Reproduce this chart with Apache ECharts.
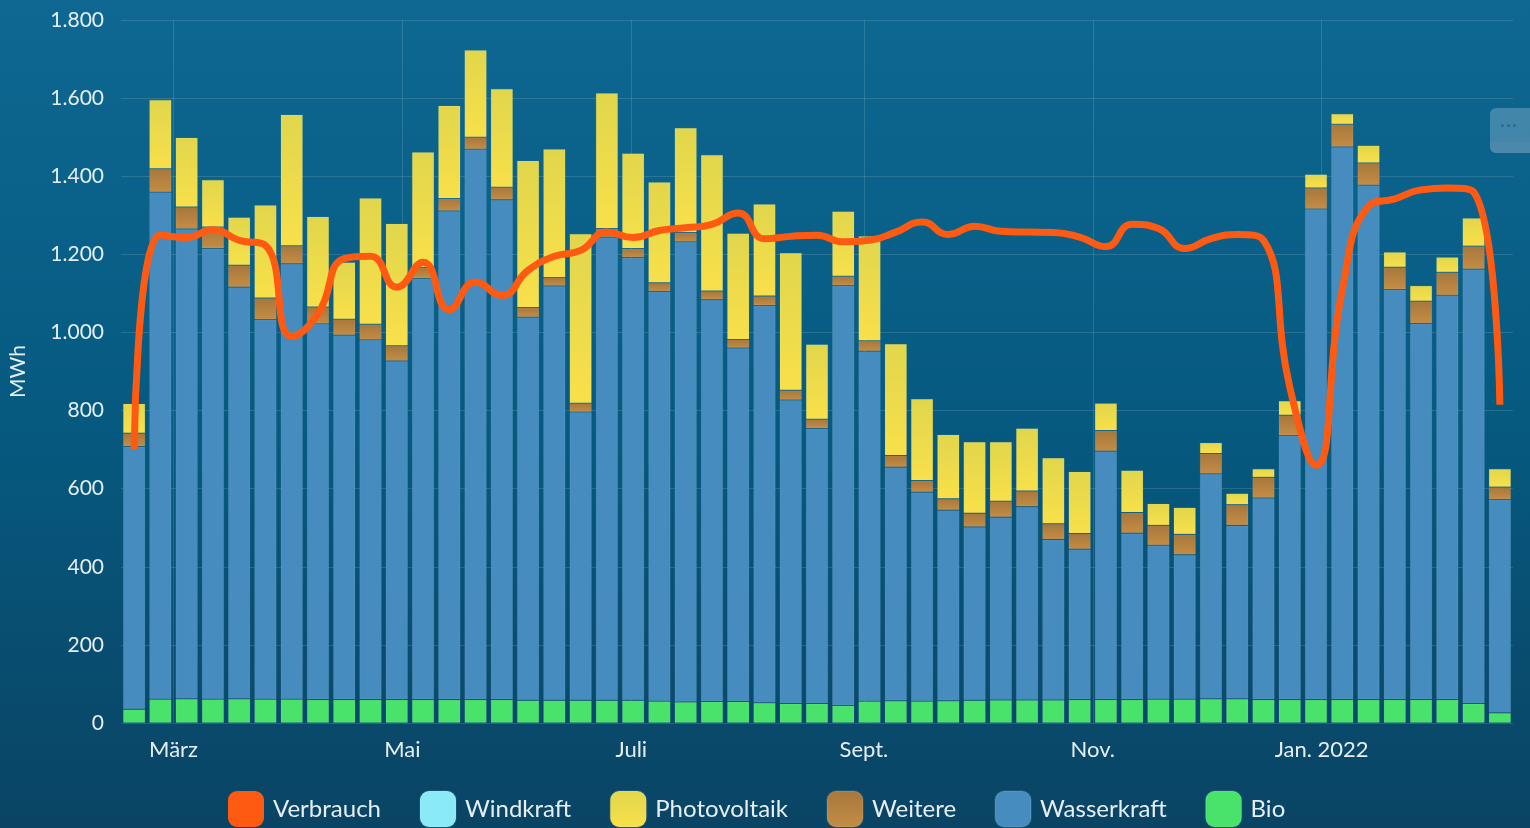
<!DOCTYPE html>
<html>
<head>
<meta charset="utf-8">
<script src="https://cdn.jsdelivr.net/npm/echarts@6/dist/echarts.min.js"></script>
<style>
html,body{margin:0;padding:0;width:1530px;height:828px;overflow:hidden;}
#c{width:1530px;height:828px;}
</style>
</head>
<body>
<div id="c"></div>
<script>
// Week start dates (Mondays) – one bar per week
const weeks = ['2021-02-15','2021-02-22','2021-03-01','2021-03-08','2021-03-15','2021-03-22','2021-03-29','2021-04-05','2021-04-12','2021-04-19','2021-04-26','2021-05-03','2021-05-10','2021-05-17','2021-05-24','2021-05-31','2021-06-07','2021-06-14','2021-06-21','2021-06-28','2021-07-05','2021-07-12','2021-07-19','2021-07-26','2021-08-02','2021-08-09','2021-08-16','2021-08-23','2021-08-30','2021-09-06','2021-09-13','2021-09-20','2021-09-27','2021-10-04','2021-10-11','2021-10-18','2021-10-25','2021-11-01','2021-11-08','2021-11-15','2021-11-22','2021-11-29','2021-12-06','2021-12-13','2021-12-20','2021-12-27','2022-01-03','2022-01-10','2022-01-17','2022-01-24','2022-01-31','2022-02-07','2022-02-14'];

const bio = [35,61,62,61,62,61,61,60,60,60, 60,60,60,60,60,58,58,58,58,58, 56,54,55,55,52,50,50,45,56,57, 56,57,58,59,59,59,60,60,60,61, 61,62,62,60,60,60,60,60,60,60, 60,50,26];
const wasserkraft = [673,1298,1203,1154,1054,972,1115,962,933,921, 867,1078,1251,1409,1280,981,1061,738,1186,1134, 1049,1178,1029,905,1017,777,704,1075,896,598, 535,488,444,468,495,411,385,636,426,394, 370,576,444,516,676,1256,1415,1317,1050,963, 1035,1112,546];
const weitere = [34,60,56,55,56,55,46,43,41,40, 39,29,32,31,32,25,22,23,22,23, 22,24,22,22,24,25,24,24,27,30, 30,29,35,41,40,40,40,53,53,51, 52,52,53,53,52,54,58,57,57,57, 59,59,32];
const photovoltaik = [76,177,178,121,123,238,336,232,146,323, 313,295,238,223,252,376,329,434,347,244, 258,268,349,272,236,352,192,166,268,286, 209,165,183,152,161,169,159,70,108,56, 69,28,29,22,37,35,27,45,39,40, 39,72,47];
const windkraft = []; // no visible values
const verbrauch = [700,1250,1243,1263,1236,1223,990,1048,1189,1195, 1116,1180,1058,1129,1095,1159,1195,1210,1257,1243, 1261,1268,1277,1306,1240,1246,1249,1232,1236,1257, 1283,1251,1272,1259,1257,1256,1244,1220,1277,1266, 1215,1240,1251,1236,860,660,1110,1323,1342,1365, 1370,1360,815];

const monthTickDates = ['2021-03-01','2021-05-01','2021-07-01','2021-09-01','2021-11-01','2022-01-01'];
const monthTickLabels = ['März','Mai','Juli','Sept.','Nov.','Jan. 2022'];
const axisStart = '2021-02-15';
const axisEnd = '2022-02-21';

const DAY = 86400000;
function ts(s){const p=s.split('-').map(Number);return Date.UTC(p[0],p[1]-1,p[2]);}
const tickVals = monthTickDates.map(ts);
const labelFor = v => { for (let i=0;i<tickVals.length;i++){ if (Math.abs(tickVals[i]-v) < DAY/2) return monthTickLabels[i]; } return ''; };

const FONT = 'Lato, "Open Sans", sans-serif';
const grad = (a,b)=>({type:'linear',x:0,y:0,x2:0,y2:1,colorStops:[{offset:0,color:a},{offset:1,color:b}]});

const chart = echarts.init(document.getElementById('c'), null, {renderer:'canvas'});
const border = {borderColor:'rgba(255,255,255,0.08)', borderWidth:1};
const bar = (name, arr, color) => ({type:'bar', stack:'total', barWidth:22.5, name, xAxisIndex:0,
  data:arr, itemStyle:Object.assign({color}, border)});
chart.setOption({
  backgroundColor: {type:'linear',x:0,y:0,x2:0,y2:1,colorStops:[{offset:0,color:'#0e6892'},{offset:0.5,color:'#065a80'},{offset:1,color:'#0a4464'}]},
  animation:false,
  textStyle:{fontFamily:FONT},
  grid:{left:120,right:17,top:20,bottom:105},
  legend:{
    top:785, left:223, itemWidth:36, itemHeight:36, itemGap:38, icon:'roundRect',
    textStyle:{color:'#e6eef2', fontSize:24, fontFamily:FONT, padding:[0,0,0,4]},
    data:['Verbrauch','Windkraft','Photovoltaik','Weitere','Wasserkraft','Bio']
  },
  xAxis:[{
    type:'category', data:weeks, position:'bottom', boundaryGap:true,
    axisLine:{show:false}, axisTick:{show:false}, axisLabel:{show:false}, splitLine:{show:false}
  },{
    type:'value', position:'bottom', min:ts(axisStart), max:ts(axisEnd),
    axisLine:{show:false},
    axisTick:{show:false, customValues:tickVals},
    axisLabel:{customValues:tickVals, color:'#e6eef2', fontSize:22, margin:16, fontFamily:FONT,
      formatter:v=>labelFor(v)},
    splitLine:{show:true, lineStyle:{color:'rgba(255,255,255,0.13)', width:1}}
  }],
  yAxis:{
    type:'value', min:0, max:1800, interval:200,
    name:'MWh', nameLocation:'middle', nameGap:92, nameRotate:90,
    nameTextStyle:{color:'#e6eef2', fontSize:21, fontFamily:FONT},
    axisLine:{show:false}, axisTick:{show:false},
    axisLabel:{color:'#e6eef2', fontSize:21, margin:17, fontFamily:FONT,
      formatter:v=>String(v).replace(/\B(?=(\d{3})+(?!\d))/g,'.')},
    splitLine:{lineStyle:{color:'rgba(255,255,255,0.13)', width:1}}
  },
  graphic:[{
    type:'group', left:1490, top:108, children:[
      {type:'rect', shape:{x:0,y:0,width:50,height:45,r:6}, style:{fill:'rgba(120,170,200,0.5)'}},
      {type:'rect', shape:{x:0,y:34,width:50,height:11,r:[0,0,6,6]}, style:{fill:'rgba(90,140,170,0.45)'}},
      {type:'text', x:10, y:10, style:{text:'···', fill:'#2f6d8c', font:'bold 18px sans-serif'}}
    ]
  }],
  series:[
    bar('Bio', bio, '#49e26a'),
    bar('Wasserkraft', wasserkraft, '#468cbe'),
    bar('Weitere', weitere, grad('#a7773c','#c48d45')),
    bar('Photovoltaik', photovoltaik, grad('#e1d64c','#f8e04a')),
    bar('Windkraft', windkraft, '#8aeaf8'),
    {name:'Verbrauch', type:'line', xAxisIndex:0, data:verbrauch, smooth:0.5, symbol:'none', z:5,
      lineStyle:{color:'#ff5a12', width:7}, itemStyle:{color:'#ff5a12'}}
  ]
});
</script>
</body>
</html>
